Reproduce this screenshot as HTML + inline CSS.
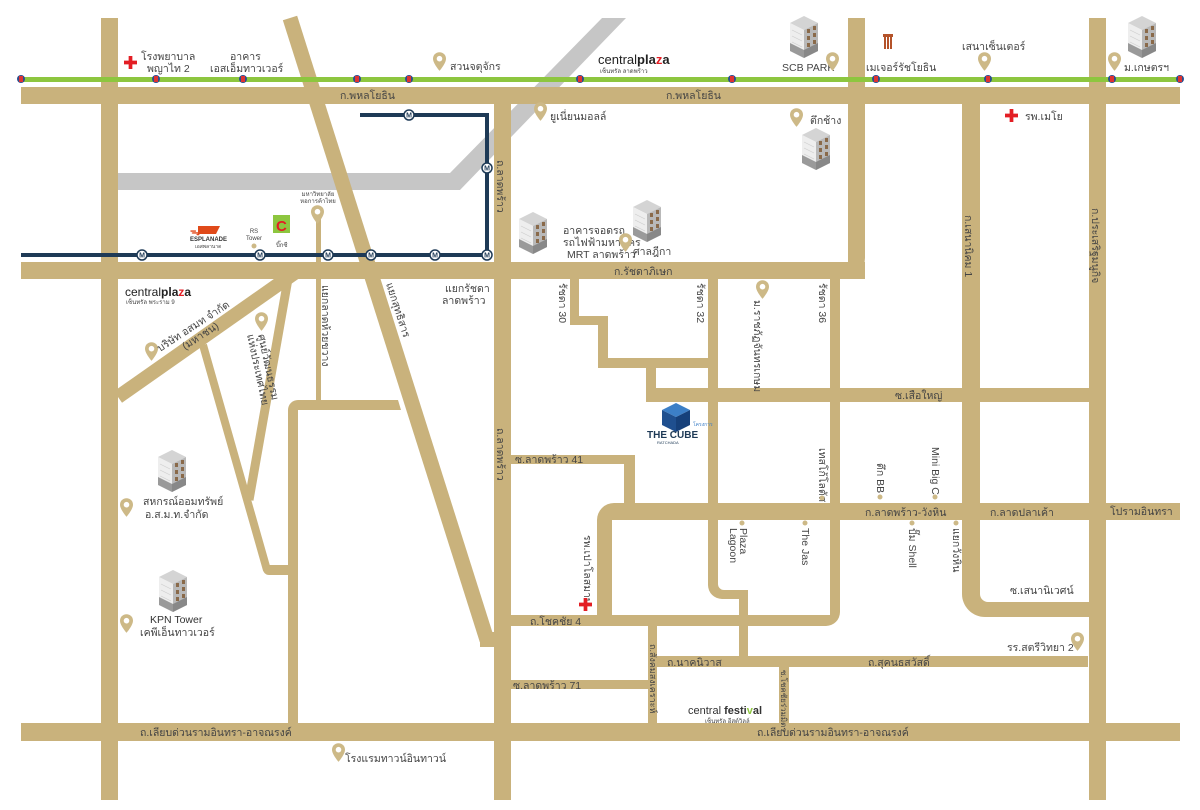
<!DOCTYPE html>
<html><head><meta charset="utf-8">
<style>
html,body{margin:0;padding:0;background:#fff;}
svg{display:block;}
text{font-family:"Liberation Sans","Noto Sans CJK SC",sans-serif;fill:#444;font-size:10.5px;}
.s{font-size:9px;}
</style></head><body>
<svg width="1200" height="810" viewBox="0 0 1200 810" xmlns="http://www.w3.org/2000/svg">
<defs>
<symbol id="pin" viewBox="0 0 14 20"><path d="M7 0C3 0 0 3 0 7c0 5 7 13 7 13s7-8 7-13C14 3 11 0 7 0z" fill="#cdb987"/><circle cx="7" cy="7" r="3" fill="#fff"/></symbol>
<symbol id="bld" viewBox="0 0 32 46">
<polygon points="16,2 30,9 16,16 2,9" fill="#d4d4d4"/>
<polygon points="2,9 16,16 16,44 2,37" fill="#eeeeee"/>
<polygon points="16,16 30,9 30,37 16,44" fill="#b9b9b9"/>
<polygon points="2,29 16,36 16,44 2,37" fill="#9a9a9a"/>
<polygon points="16,36 30,29 30,37 16,44" fill="#888"/>
<g fill="#8a6a4a"><rect x="19" y="15" width="3" height="4"/><rect x="25" y="12" width="3" height="4"/><rect x="19" y="22" width="3" height="4"/><rect x="25" y="19" width="3" height="4"/><rect x="19" y="29" width="3" height="4"/><rect x="25" y="26" width="3" height="4"/></g>
<g stroke="#ccc" stroke-width="0.6"><line x1="4" y1="16" x2="14" y2="21"/><line x1="4" y1="22" x2="14" y2="27"/><line x1="4" y1="28" x2="14" y2="33"/></g>
</symbol>
<symbol id="bts" viewBox="0 0 10 10"><circle cx="5" cy="5" r="4" fill="#2a4d8f"/><rect x="3" y="2" width="4" height="6" fill="#d33"/></symbol>
<symbol id="mrt" viewBox="0 0 12 12"><circle cx="6" cy="6" r="5" fill="#fff" stroke="#1e3a56" stroke-width="1.5"/><text x="6" y="8.5" text-anchor="middle" style="font-size:7px;font-weight:bold;fill:#1e3a56">M</text></symbol>
<symbol id="cross" viewBox="0 0 14 14"><path d="M5 0h4v5h5v4H9v5H5V9H0V5h5z" fill="#e31e24"/></symbol>
</defs>

<!-- expressway -->
<polygon points="116,173 450,173 602,18 626,18 460,190 116,190" fill="#c6c6c6"/>

<g fill="#c9b27c">
<!-- verticals -->
<rect x="101" y="18" width="17" height="782"/>
<rect x="494" y="87" width="17" height="713"/>
<rect x="1089" y="18" width="17" height="782"/>
<path d="M848 18h17v240a21 21 0 0 1-21 21H494v-17h354z"/>
<path d="M962 104h18v490a8 8 0 0 0 8 8h118v15H985a23 23 0 0 1-23-23z"/>
<!-- horizontals -->
<rect x="21" y="87" width="1159" height="17"/>
<rect x="21" y="262" width="844" height="17"/>
<rect x="21" y="723" width="1159" height="18"/>
<!-- diagonals -->
<line x1="290" y1="18" x2="487" y2="640" stroke="#c9b27c" stroke-width="15"/>
<rect x="480" y="632" width="20" height="15"/>
<line x1="118" y1="397" x2="296" y2="272" stroke="#c9b27c" stroke-width="14"/>
<line x1="288" y1="279" x2="249" y2="500" stroke="#c9b27c" stroke-width="9"/>
<line x1="203" y1="345" x2="267" y2="570" stroke="#c9b27c" stroke-width="8"/>
<path d="M263 565h30v10h-24a6 6 0 0 1-6-6z" />
<rect x="316" y="218" width="5" height="184"/>
<path d="M288 410a10 10 0 0 1 10-10h100l3 10H298v313h-10z"/>
<!-- ratchada sois -->
<rect x="570" y="279" width="9" height="46"/>
<rect x="570" y="316" width="38" height="9"/>
<rect x="598" y="316" width="10" height="52"/>
<rect x="598" y="358" width="120" height="10"/>
<rect x="646" y="358" width="10" height="44"/>
<path d="M708 279h10v305a6 6 0 0 0 6 6h24v70h-9v-61h-17a14 14 0 0 1-14-14z"/>
<path d="M830 279h10v333a14 14 0 0 1-14 14H510v-11h320z"/>
<rect x="646" y="388" width="460" height="14"/>
<rect x="510" y="455" width="125" height="9"/>
<rect x="624" y="455" width="11" height="55"/>
<path d="M597 520a17 17 0 0 1 17-17h566v17H612v100h-15z"/>
<rect x="648" y="626" width="9" height="97"/>
<rect x="648" y="656" width="440" height="11"/>
<rect x="510" y="680" width="138" height="9"/>
<rect x="779" y="667" width="10" height="56"/>
</g>

<!-- MRT -->
<g stroke="#1e3a56" stroke-width="4" fill="none">
<line x1="21" y1="255" x2="489" y2="255"/>
<polyline points="360,115 487,115 487,257"/>
</g>
<g>
<use href="#mrt" x="136" y="249" width="12" height="12"/>
<use href="#mrt" x="254" y="249" width="12" height="12"/>
<use href="#mrt" x="322" y="249" width="12" height="12"/>
<use href="#mrt" x="365" y="249" width="12" height="12"/>
<use href="#mrt" x="429" y="249" width="12" height="12"/>
<use href="#mrt" x="481" y="249" width="12" height="12"/>
<use href="#mrt" x="481" y="162" width="12" height="12"/>
<use href="#mrt" x="403" y="109" width="12" height="12"/>
</g>

<!-- BTS -->
<rect x="21" y="77" width="1159" height="5" fill="#8dc63f"/>
<g>
<use href="#bts" x="16" y="74" width="10" height="10"/>
<use href="#bts" x="151" y="74" width="10" height="10"/>
<use href="#bts" x="238" y="74" width="10" height="10"/>
<use href="#bts" x="352" y="74" width="10" height="10"/>
<use href="#bts" x="404" y="74" width="10" height="10"/>
<use href="#bts" x="575" y="74" width="10" height="10"/>
<use href="#bts" x="727" y="74" width="10" height="10"/>
<use href="#bts" x="871" y="74" width="10" height="10"/>
<use href="#bts" x="983" y="74" width="10" height="10"/>
<use href="#bts" x="1107" y="74" width="10" height="10"/>
<use href="#bts" x="1175" y="74" width="10" height="10"/>
</g>

<!-- top labels -->
<use href="#cross" x="124" y="56" width="13" height="13"/>
<text x="141" y="60">โรงพยาบาล</text><text x="147" y="72">พญาไท 2</text>
<text x="230" y="60">อาคาร</text><text x="210" y="72">เอสเอ็มทาวเวอร์</text>
<use href="#pin" x="433" y="52" width="13" height="19"/><text x="450" y="70">สวนจตุจักร</text>
<text x="598" y="64" style="font-size:13px;fill:#222">central<tspan style="font-weight:bold">pla</tspan><tspan style="font-weight:bold;fill:#e31e24">z</tspan><tspan style="font-weight:bold">a</tspan></text>
<text x="600" y="73" class="s" style="font-size:6px">เซ็นทรัล ลาดพร้าว</text>
<use href="#bld" x="788" y="14" width="32" height="46"/>
<text x="782" y="71">SCB PARK</text><use href="#pin" x="826" y="52" width="13" height="19"/>
<g fill="#b4532a"><rect x="883" y="34" width="10" height="3"/><rect x="884" y="37" width="2" height="12"/><rect x="887" y="37" width="2" height="12"/><rect x="890" y="37" width="2" height="12"/></g>
<text x="866" y="71">เมเจอร์รัชโยธิน</text>
<text x="962" y="50">เสนาเซ็นเตอร์</text><use href="#pin" x="978" y="52" width="13" height="19"/>
<use href="#bld" x="1126" y="14" width="32" height="46"/>
<use href="#pin" x="1108" y="52" width="13" height="19"/><text x="1124" y="71">ม.เกษตรฯ</text>

<text x="340" y="99">ก.พหลโยธิน</text><text x="666" y="99">ก.พหลโยธิน</text>
<use href="#pin" x="534" y="102" width="13" height="19"/><text x="550" y="120">ยูเนี่ยนมอลล์</text>
<use href="#pin" x="790" y="108" width="13" height="19"/><text x="810" y="124">ตึกช้าง</text>
<use href="#bld" x="800" y="126" width="32" height="46"/>
<use href="#cross" x="1005" y="109" width="13" height="13"/><text x="1025" y="120">รพ.เมโย</text>

<text transform="translate(497,160) rotate(90)">ถ.ลาดพร้าว</text>
<text x="318" y="196" class="s" text-anchor="middle" style="font-size:6px">มหาวิทยาลัย</text>
<text x="318" y="203" class="s" text-anchor="middle" style="font-size:6px">หอการค้าไทย</text>
<use href="#pin" x="311" y="205" width="13" height="19"/>
<text x="190" y="235" style="font-size:10px;fill:#e04a1a;font-weight:bold">ᯓ</text>
<path d="M198 226h22l-4 8h-18z" fill="#e04a1a"/>
<text x="190" y="241" style="font-size:6px;fill:#333;font-weight:bold">ESPLANADE</text>
<text x="195" y="248" style="font-size:5px">เอสพลานาด</text>
<text x="254" y="233" class="s" text-anchor="middle" style="font-size:6px">RS</text>
<text x="254" y="240" class="s" text-anchor="middle" style="font-size:6px">Tower</text>
<circle cx="254" cy="246" r="2.5" fill="#cdb987"/>
<rect x="273" y="215" width="17" height="18" fill="#8dc63f"/>
<text x="276" y="231" style="font-size:15px;font-weight:bold;fill:#e31e24">C</text>
<text x="276" y="247" style="font-size:6px">บิ๊กซี</text>

<use href="#bld" x="517" y="210" width="32" height="46"/>
<text x="563" y="234">อาคารจอดรถ</text><text x="563" y="246">รถไฟฟ้ามหานคร</text><text x="567" y="258">MRT ลาดพร้าว</text>
<use href="#pin" x="619" y="233" width="13" height="19"/>
<use href="#bld" x="631" y="198" width="32" height="46"/>
<text x="633" y="255">ศาลฎีกา</text>
<text x="614" y="275">ก.รัชดาภิเษก</text>
<text transform="translate(965,215) rotate(90)">ก.เสนานิคม 1</text>
<text transform="translate(1092,208) rotate(90)">ก.ประเสริฐมนูกิจ</text>

<!-- middle left -->
<text x="125" y="296" style="font-size:12px;fill:#222">central<tspan style="font-weight:bold">pla</tspan><tspan style="font-weight:bold;fill:#e31e24">z</tspan><tspan style="font-weight:bold">a</tspan></text>
<text x="126" y="304" style="font-size:6px">เซ็นทรัล พระราม 9</text>
<use href="#pin" x="145" y="342" width="13" height="19"/>
<text transform="translate(160,352) rotate(-33)">บริษัท อสมท จำกัด</text>
<text transform="translate(185,350) rotate(-33)">(มหาชน)</text>
<use href="#pin" x="255" y="312" width="13" height="19"/>
<text transform="translate(258,335) rotate(78)">ศูนย์วัฒนธรรม</text>
<text transform="translate(247,335) rotate(78)">แห่งประเทศไทย</text>
<text transform="translate(322,285) rotate(90)">แยกลาดห้วยขวาง</text>
<text transform="translate(386,284) rotate(72)">แยกสุทธิสาร</text>
<text x="445" y="292">แยกรัชดา</text><text x="442" y="304">ลาดพร้าว</text>

<text transform="translate(559,283) rotate(90)">รัชดา 30</text>
<text transform="translate(697,283) rotate(90)">รัชดา 32</text>
<use href="#pin" x="756" y="280" width="13" height="19"/>
<text transform="translate(754,300) rotate(90)">ม.ราชภัฏจันทรเกษม</text>
<text transform="translate(819,283) rotate(90)">รัชดา 36</text>
<text x="895" y="399">ซ.เสือใหญ่</text>

<!-- the cube -->
<polygon points="676,403 690,410 676,417 662,410" fill="#3c7fc7"/>
<polygon points="662,410 676,417 676,432 662,425" fill="#1f4f8f"/>
<polygon points="676,417 690,410 690,425 676,432" fill="#16407a"/>
<text x="693" y="426" style="font-size:5px;fill:#3c7fc7">โครงการ</text>
<text x="647" y="438" style="font-size:10px;font-weight:bold;fill:#1e3a56">THE CUBE</text>
<text x="657" y="444" style="font-size:4px;fill:#1e3a56">RATCHADA</text>

<text transform="translate(497,428) rotate(90)">ถ.ลาดพร้าว</text>
<use href="#bld" x="156" y="448" width="32" height="46"/>
<use href="#pin" x="120" y="498" width="13" height="19"/>
<text x="143" y="505">สหกรณ์ออมทรัพย์</text><text x="145" y="518">อ.ส.ม.ท.จำกัด</text>
<text x="515" y="463">ซ.ลาดพร้าว 41</text>
<text transform="translate(819,448) rotate(90)">เทสโก้โลตัส</text><circle cx="822" cy="498" r="2.5" fill="#cdb987"/>
<text transform="translate(877,463) rotate(90)">ตึก BB</text><circle cx="880" cy="497" r="2.5" fill="#cdb987"/>
<text transform="translate(932,447) rotate(90)">Mini Big C</text><circle cx="935" cy="497" r="2.5" fill="#cdb987"/>
<text x="865" y="516">ก.ลาดพร้าว-วังหิน</text>
<text x="990" y="516">ก.ลาดปลาเค้า</text>
<text x="1110" y="515">โปรามอินทรา</text>
<circle cx="742" cy="523" r="2.5" fill="#cdb987"/><text transform="translate(740,528) rotate(90)">Plaza</text><text transform="translate(730,528) rotate(90)">Lagoon</text>
<circle cx="805" cy="523" r="2.5" fill="#cdb987"/><text transform="translate(802,528) rotate(90)">The Jas</text>
<circle cx="912" cy="523" r="2.5" fill="#cdb987"/><text transform="translate(909,528) rotate(90)">ปั๊ม Shell</text>
<circle cx="956" cy="523" r="2.5" fill="#cdb987"/><text transform="translate(953,528) rotate(90)">แยกวังหิน</text>
<text transform="translate(584,535) rotate(90)">รพ.เปาโลสมาน</text>
<use href="#cross" x="579" y="598" width="13" height="13"/>
<text x="1010" y="594">ซ.เสนานิเวศน์</text>

<use href="#bld" x="157" y="568" width="32" height="46"/>
<use href="#pin" x="120" y="614" width="13" height="19"/>
<text x="150" y="623" style="fill:#333">KPN Tower</text><text x="140" y="636">เคพีเอ็นทาวเวอร์</text>
<text x="530" y="625">ถ.โชคชัย 4</text>
<text x="1007" y="651">รร.สตรีวิทยา 2</text><use href="#pin" x="1071" y="632" width="13" height="19"/>
<text x="667" y="666">ถ.นาคนิวาส</text><text x="868" y="666">ถ.สุคนธสวัสดิ์</text>
<text transform="translate(650,644) rotate(90)" style="font-size:9px">ถ.สังคมสงเคราะห์</text>
<text x="513" y="689">ซ.ลาดพร้าว 71</text>
<text transform="translate(781,670) rotate(90)" style="font-size:8px">ซ.โชคชัยร่วมมิตร</text>
<text x="688" y="714" style="font-size:11px;fill:#333">central <tspan style="font-weight:bold">festi</tspan><tspan style="fill:#8dc63f;font-weight:bold">v</tspan><tspan style="font-weight:bold">al</tspan></text>
<text x="705" y="723" style="font-size:6px">เซ็นทรัล อีสต์วิลล์</text>
<text x="140" y="736">ถ.เลียบด่วนรามอินทรา-อาจณรงค์</text>
<text x="757" y="736">ถ.เลียบด่วนรามอินทรา-อาจณรงค์</text>
<use href="#pin" x="332" y="743" width="13" height="19"/><text x="345" y="762">โรงแรมทาวน์อินทาวน์</text>
</svg>
</body></html>
